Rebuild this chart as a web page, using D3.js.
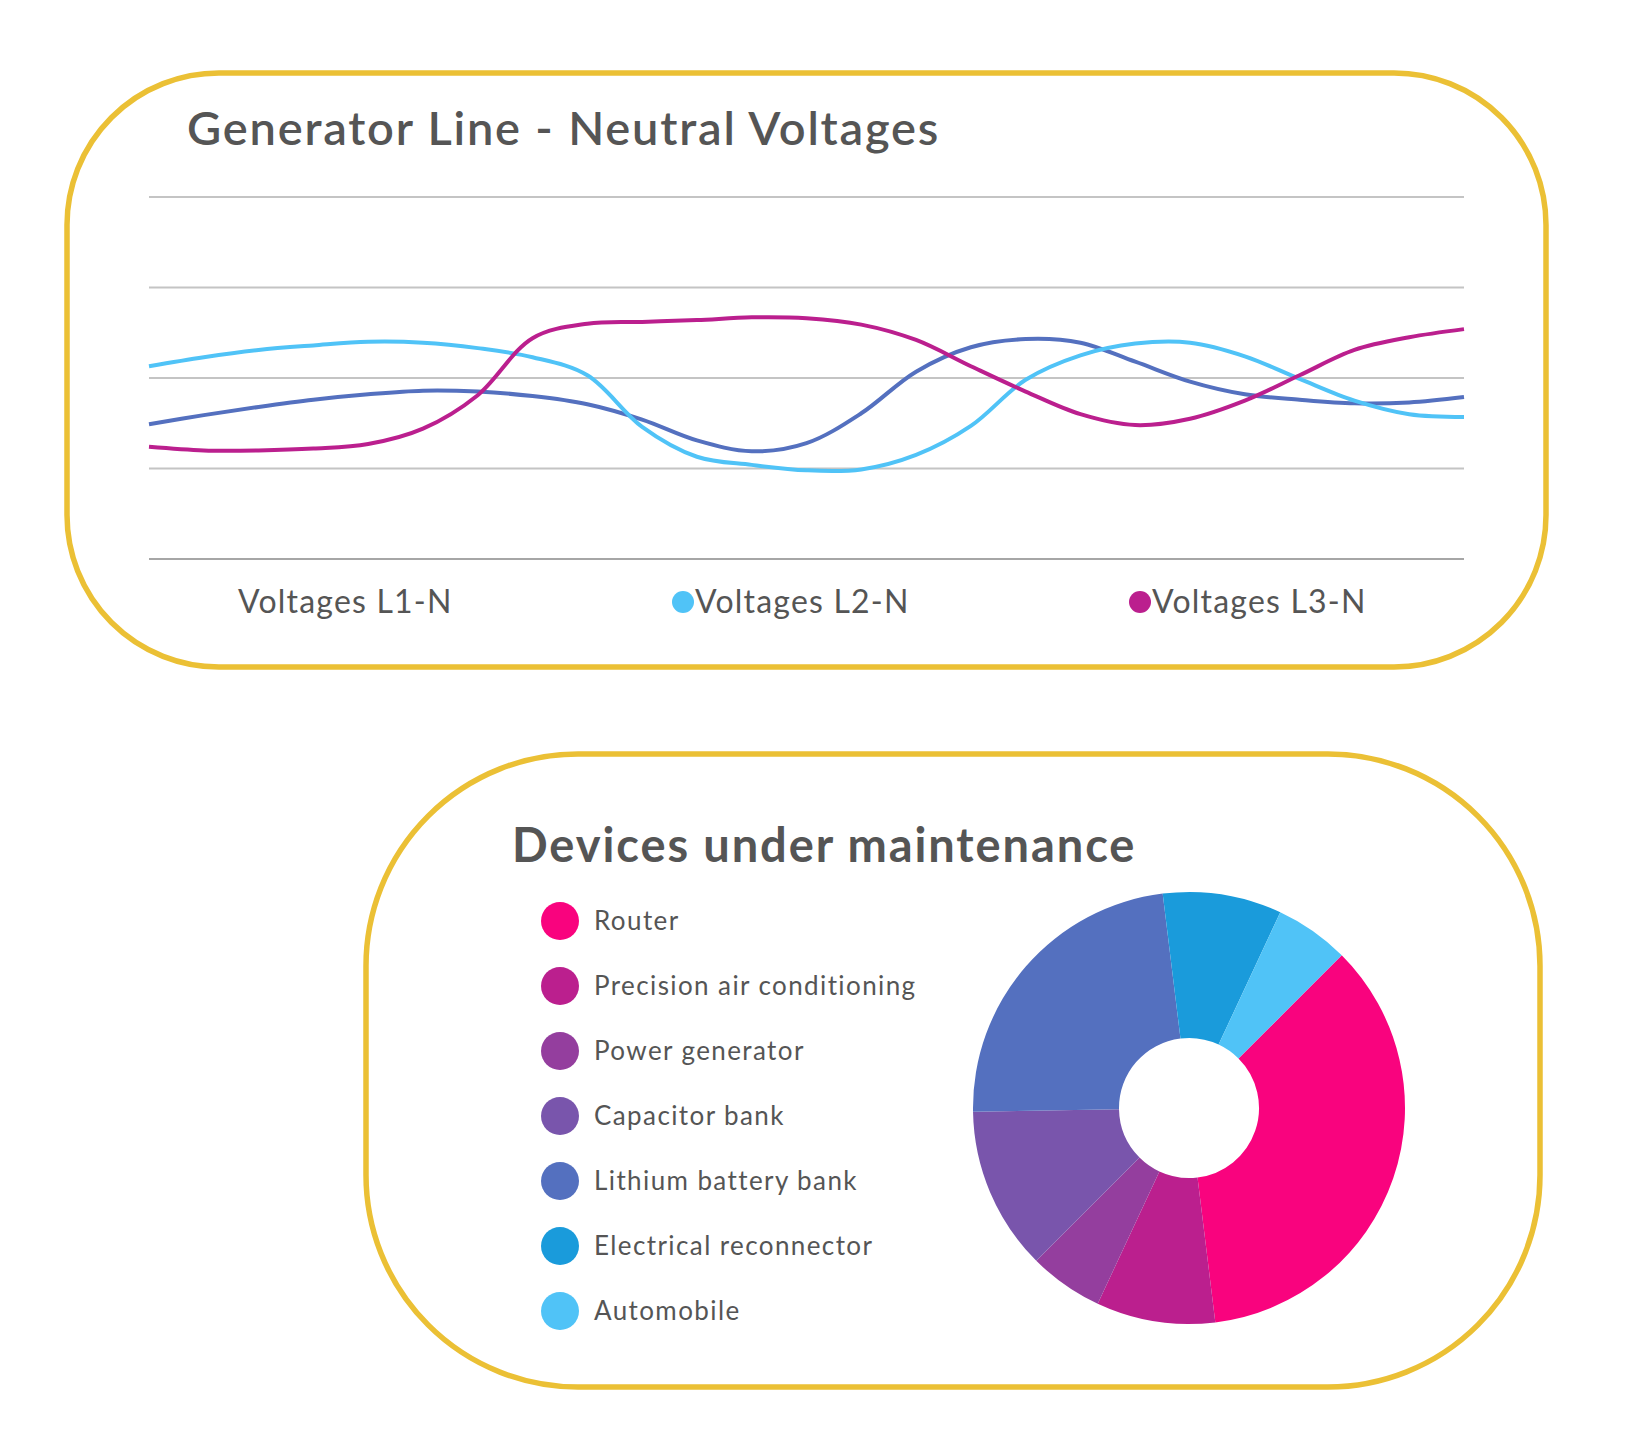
<!DOCTYPE html>
<html>
<head>
<meta charset="utf-8">
<script src="https://cdn.jsdelivr.net/npm/d3@7"></script>
<style>
  body { margin: 0; background: #fff; }
  text { font-family: Lato, "Open Sans", sans-serif; fill: #555; }
</style>
</head>
<body>
<script>
var GV = {};     // dashboard scope

/* DATA */
var voltSeries = [ "Voltages L1-N", "Voltages L2-N", "Voltages L3-N" ];
var voltL1 = [224.9, 225.9, 226.8, 227.6, 228.2, 228.6, 228.5, 228.0, 227.1, 225.4,
              223.1, 221.9, 222.8, 226.1, 230.7, 233.4, 234.3, 233.9, 231.8, 229.6,
              228.2, 227.6, 227.2, 227.3, 227.9];
var voltL2 = [231.3, 232.3, 233.1, 233.6, 234.0, 233.9, 233.3, 232.3, 230.3, 224.6,
              221.3, 220.4, 219.8, 219.9, 221.5, 224.7, 229.8, 232.5, 233.8, 233.9,
              232.4, 229.9, 227.5, 226.0, 225.7];
var voltL3 = [222.4, 222.0, 222.0, 222.2, 222.7, 224.4, 228.1, 234.4, 236.0, 236.2,
              236.4, 236.7, 236.6, 235.9, 234.2, 231.3, 228.5, 226.0, 224.8, 225.5,
              227.5, 230.3, 233.1, 234.5, 235.4];
var voltTicks = [210, 220, 230, 240, 250];

var devices = [ "Router", "Precision air conditioning", "Power generator",
    "Capacitor bank", "Lithium battery bank", "Electrical reconnector", "Automobile" ];
var deviceCounts = [32, 8, 5, 11, 21, 8, 5];

GV.lineColors = [ "#5470bf", "#50c3f7", "#bb1f8e" ];
GV.legendDot = [ false, true, true ];    // L1 shows no marker in legend
GV.pieColors = [ "#f9037e", "#bb1f8e", "#943e9e", "#7955ac", "#5470bf", "#1a9bdb", "#50c3f7" ];
GV.gold = "#ebc035";

GV.svg = d3.select("body").append("svg")
    .attr("width", 1645)
    .attr("height", 1451);

/* ---------- card 1 : line chart ---------- */
GV.svg.append("rect")
    .attr("x", 67).attr("y", 73)
    .attr("width", 1479).attr("height", 594)
    .attr("rx", 152).attr("ry", 152)
    .style("fill", "white")
    .style("stroke", GV.gold)
    .style("stroke-width", 5.5);

GV.svg.append("text")
    .attr("x", 187).attr("y", 145)
    .attr("font-size", "47px")
    .attr("font-weight", 600)
    .attr("letter-spacing", "1.8px")
    .text("Generator Line - Neutral Voltages");

GV.x = d3.scaleLinear().domain([0, voltL1.length - 1]).range([149, 1464]);
GV.y = d3.scaleLinear().domain([210, 250]).range([559, 197]);

// horizontal grid
GV.svg.append("g")
    .selectAll("line")
    .data(voltTicks)
    .enter()
    .append("line")
    .attr("x1", 149).attr("x2", 1464)
    .attr("y1", function(d) { return GV.y(d); })
    .attr("y2", function(d) { return GV.y(d); })
    .style("stroke", function(d, i) { return i == 0 ? "#a6a6a6" : "#c4c4c4"; })
    .style("stroke-width", 2);

GV.line = d3.line()
    .x(function(d, i) { return GV.x(i); })
    .y(function(d) { return GV.y(d); })
    .curve(d3.curveCatmullRom.alpha(0.5));

GV.svg.append("g")
    .selectAll("path")
    .data([voltL1, voltL2, voltL3])
    .enter()
    .append("path")
    .attr("d", GV.line)
    .style("fill", "none")
    .style("stroke", function(d, i) { return GV.lineColors[i]; })
    .style("stroke-width", 4);

// legend under the plot
GV.legX = d3.scalePoint().domain(voltSeries).range([226, 1140]);
GV.leg1 = GV.svg.append("g")
    .selectAll("g")
    .data(voltSeries)
    .enter()
    .append("g")
    .attr("transform", function(d) { return "translate(" + GV.legX(d) + ",602)"; });
GV.leg1.append("circle")
    .attr("r", 11)
    .style("fill", function(d, i) { return GV.legendDot[i] ? GV.lineColors[i] : "none"; });
GV.leg1.append("text")
    .attr("x", 12).attr("y", 11)
    .attr("font-size", "32px")
    .attr("letter-spacing", "1.2px")
    .text(function(d) { return d; });

/* ---------- card 2 : donut ---------- */
GV.svg.append("rect")
    .attr("x", 366).attr("y", 754)
    .attr("width", 1174).attr("height", 633)
    .attr("rx", 212).attr("ry", 212)
    .style("fill", "white")
    .style("stroke", GV.gold)
    .style("stroke-width", 5.5);

GV.svg.append("text")
    .attr("x", 512).attr("y", 862)
    .attr("font-size", "47px")
    .attr("font-weight", "bold")
    .attr("letter-spacing", "1.9px")
    .text("Devices under maintenance");

GV.leg2 = GV.svg.append("g")
    .selectAll("g")
    .data(devices)
    .enter()
    .append("g")
    .attr("transform", function(d, i) { return "translate(560," + (921 + i * 65) + ")"; });
GV.leg2.append("circle")
    .attr("r", 19)
    .style("fill", function(d, i) { return GV.pieColors[i]; });
GV.leg2.append("text")
    .attr("x", 34).attr("y", 9)
    .attr("font-size", "26px")
    .attr("letter-spacing", "1.4px")
    .text(function(d) { return d; });

GV.pie = d3.pie()
    .sort(null)
    .startAngle(Math.PI / 4)
    .endAngle(Math.PI / 4 + 2 * Math.PI);

GV.arc = d3.arc().innerRadius(70).outerRadius(216);

GV.svg.append("g")
    .attr("transform", "translate(1189,1108)")
    .selectAll("path")
    .data(GV.pie(deviceCounts))
    .enter()
    .append("path")
    .attr("d", GV.arc)
    .style("fill", function(d, i) { return GV.pieColors[i]; });
</script>
</body>
</html>
